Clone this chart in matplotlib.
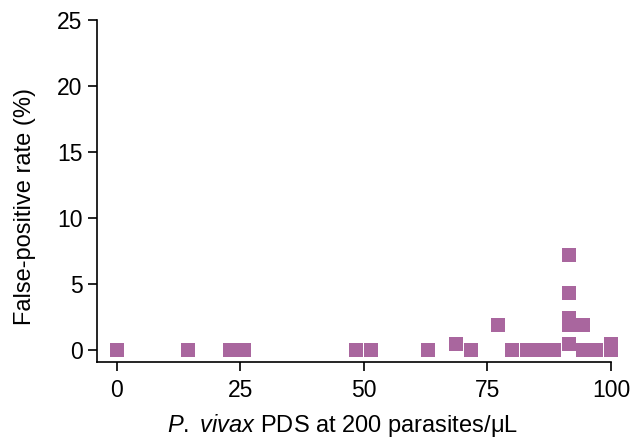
import matplotlib.pyplot as plt

plt.rcParams['font.family'] = ['Liberation Sans', 'DejaVu Sans']
plt.rcParams['mathtext.fontset'] = 'custom'
plt.rcParams['mathtext.it'] = 'Liberation Sans:italic'
plt.rcParams['mathtext.rm'] = 'Liberation Sans'

# PDS score vs false-positive rate for each test
pds = [0, 14.4, 22.9, 25.8, 48.5, 51.5, 62.9, 68.6, 71.6, 77.2,
       80.0, 82.9, 85.7, 88.5,
       91.4, 91.4, 91.4, 91.4, 91.4,
       94.3, 94.3, 97.0, 100, 100]
fpr = [0, 0, 0, 0, 0, 0, 0, 0.5, 0, 1.9,
       0, 0, 0, 0,
       7.2, 4.35, 2.4, 1.9, 0.5,
       1.9, 0, 0, 0.5, 0]

fig = plt.figure(figsize=(6.32, 4.43), dpi=100)
ax = fig.add_axes([0.1535, 0.1828, 0.8133, 0.7721])

ax.scatter(pds, fpr, marker='s', s=108, color='#A9669E', linewidths=0,
           clip_on=False, zorder=3)

ax.set_xlim(-4, 100)
ax.set_ylim(-0.9, 25)
ax.set_xticks([0, 25, 50, 75, 100])
ax.set_yticks([0, 5, 10, 15, 20, 25])
ax.spines['top'].set_visible(False)
ax.spines['right'].set_visible(False)
for s in ['left', 'bottom']:
    ax.spines[s].set_linewidth(1.2)
ax.tick_params(length=6.5, width=1.2, labelsize=16.5, pad=4)
ax.tick_params(axis='x', pad=6)

ax.set_xlabel(r'$\mathit{P.}$ $\mathit{vivax}$ PDS at 200 parasites/μL',
              fontsize=17, labelpad=7)
ax.set_ylabel('False-positive rate (%)', fontsize=17, labelpad=15)
ax.xaxis.label.set_x(0.477)
ax.yaxis.label.set_y(0.456)

fig.savefig('out.png', dpi=100)
